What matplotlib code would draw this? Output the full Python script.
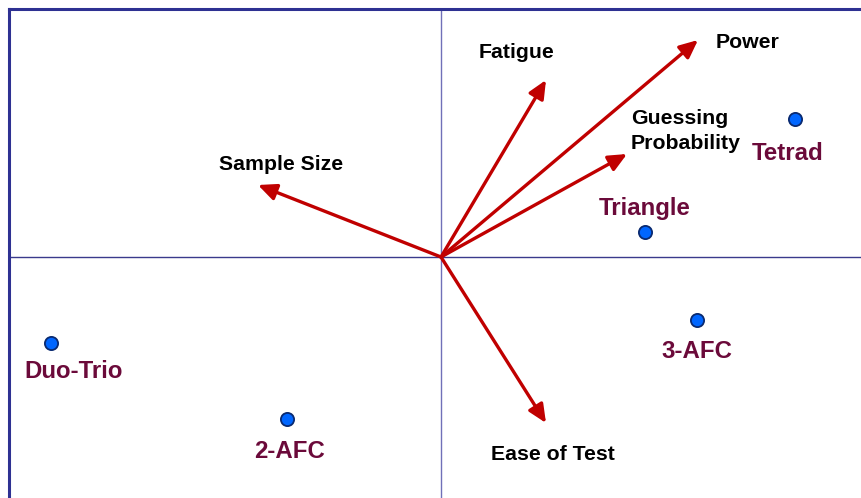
import numpy as np
import matplotlib
matplotlib.use("Agg")
import matplotlib.pyplot as plt

plt.rcParams['font.family'] = ['Liberation Sans', 'DejaVu Sans']

# test methods (scores)
methods = ["Tetrad", "Triangle", "3-AFC", "Duo-Trio", "2-AFC"]
method_x = [3.54, 2.04, 2.56, -3.90, -1.54]
method_y = [1.38, 0.25, -0.63, -0.86, -1.62]
# label centres for each method
method_lx = [3.47, 2.04, 2.56, -3.67, -1.51]
method_ly = [1.04, 0.49, -0.95, -1.15, -1.94]

# attributes (loadings)
attrs = ["Fatigue", "Power", "Guessing\nProbability", "Sample Size", "Ease of Test"]
attr_x = [1.05, 2.57, 1.86, -1.83, 1.05]
attr_y = [1.77, 2.17, 1.03, 0.72, -1.66]
attr_lx = [0.75, 3.07, 1.90, -1.60, 1.12]
attr_ly = [2.04, 2.14, 1.26, 0.92, -1.97]
attr_ha = ["center", "center", "left", "center", "center"]

fig = plt.figure(figsize=(8.61, 4.98), dpi=100)
left = 8.5 / 861
top = 9.5 / 498
ax = fig.add_axes([left, 0, 1 - left, 1 - top])
ax.set_xlim(-4.325, 4.20)
ax.set_ylim(-2.41, 2.475)

for s in ["right", "bottom"]:
    ax.spines[s].set_visible(False)
for s in ["left", "top"]:
    ax.spines[s].set_color("#2E3192")
    ax.spines[s].set_linewidth(2.2)
ax.set_xticks([])
ax.set_yticks([])

ax.axvline(0, color="#7070B8", lw=1.0, zorder=1)
ax.axhline(0, color="#3A3A8C", lw=1.0, zorder=1)

red = "#C00000"
for x, y, lab, lx, ly, ha in zip(attr_x, attr_y, attrs, attr_lx, attr_ly, attr_ha):
    ax.annotate("", xy=(x, y), xytext=(0, 0),
                arrowprops=dict(arrowstyle="-|>,head_length=0.55,head_width=0.25",
                                color=red, lw=2.4, shrinkA=0, shrinkB=0,
                                mutation_scale=20), zorder=3)
    ax.text(lx, ly, lab, ha=ha, va="center", fontsize=15.3, fontweight="bold",
            color="black", linespacing=1.45)

ax.plot(method_x, method_y, "o", ms=9.5, color="#0066FF",
        markeredgecolor="#0A2A70", markeredgewidth=1.3, zorder=4)
for lab, lx, ly in zip(methods, method_lx, method_ly):
    ax.text(lx, ly, lab, ha="center", va="center", fontsize=17.3, fontweight="bold",
            color="#6B0A3A")

fig.savefig("out.png", dpi=100)
